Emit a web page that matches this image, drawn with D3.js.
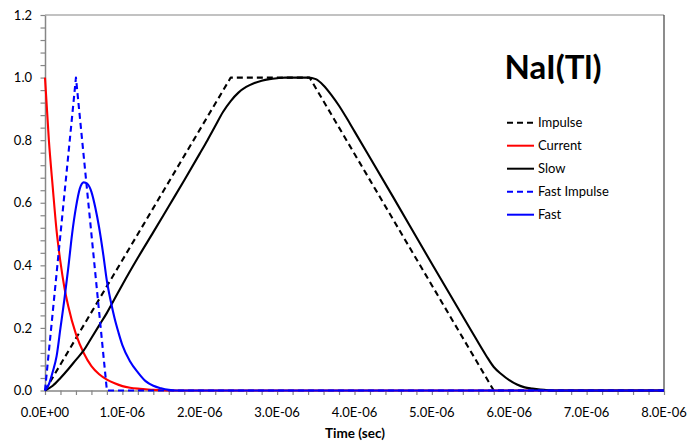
<!DOCTYPE html>
<html>
<head>
<meta charset="utf-8">
<script src="https://cdn.jsdelivr.net/npm/d3@7"></script>
<style>
  body { margin: 0; background: #fff; }
  text { font-family: Lato, "Open Sans", sans-serif; fill: #000; }
</style>
</head>
<body>
<svg width="688" height="442"></svg>
<script>
// times are in microseconds, values are normalised amplitude
var impulseTime = [0, 2.4, 3.42, 5.8, 8];
var impulseValue = [0, 1, 1, 0, 0];

var currentTime = [0, 0.05, 0.1, 0.15, 0.2, 0.25, 0.3, 0.4, 0.5, 0.6, 0.7, 0.8, 0.9, 1.0, 1.1, 1.2, 1.3, 1.4, 1.5, 1.6, 8];
var currentValue = [1.0, 0.8, 0.65, 0.51, 0.41, 0.33, 0.27, 0.18, 0.12, 0.078, 0.052, 0.035, 0.023, 0.014, 0.009, 0.006, 0.004, 0.002, 0.001, 0, 0];

var slowTime = [0, 0.1, 0.2, 0.3, 0.4, 0.5, 0.6, 0.7, 0.8, 0.9, 1.0, 1.2, 1.4, 1.6, 1.8, 2.0, 2.1, 2.2, 2.3, 2.4, 2.5, 2.6, 2.7, 2.8, 2.9, 3.0, 3.1, 3.4,
                3.5, 3.6, 3.7, 3.8, 3.9, 4.0, 4.5, 5.0, 5.5, 5.7, 5.8, 5.9, 6.0, 6.1, 6.2, 6.3, 6.4, 6.5, 6.6, 8];
var slowValue = [0, 0.015, 0.04, 0.068, 0.098, 0.128, 0.168, 0.208, 0.248, 0.293, 0.338, 0.424, 0.506, 0.589, 0.672, 0.757, 0.8, 0.845, 0.89, 0.925, 0.952, 0.97, 0.982, 0.99, 0.995, 0.998, 1.0, 1.0,
                 0.995, 0.975, 0.945, 0.91, 0.87, 0.828, 0.618, 0.405, 0.195, 0.112, 0.075, 0.052, 0.033, 0.019, 0.01, 0.006, 0.003, 0.001, 0, 0];

var fastImpulseTime = [0, 0.4, 0.8, 8];
var fastImpulseValue = [0, 1, 0, 0];

var fastTime = [0, 0.05, 0.1, 0.15, 0.2, 0.25, 0.3, 0.35, 0.4, 0.45, 0.5, 0.55, 0.6, 0.65, 0.7, 0.75, 0.8, 0.85, 0.9, 0.95, 1.0, 1.1, 1.2, 1.3, 1.4, 1.5, 1.6, 1.7, 8];
var fastValue = [0, 0.02, 0.06, 0.11, 0.2, 0.29, 0.39, 0.5, 0.585, 0.645, 0.665, 0.66, 0.635, 0.585, 0.52, 0.44, 0.35, 0.285, 0.23, 0.185, 0.145, 0.093, 0.058, 0.03, 0.015, 0.007, 0.002, 0, 0];

var seriesNames = ["Impulse", "Current", "Slow", "Fast Impulse", "Fast"];
var seriesColors = ["#000000", "#ff0000", "#000000", "#0000ff", "#0000ff"];
var seriesDashed = [true, false, false, true, false];
var seriesSmooth = [false, true, true, false, true];

var xTickValues = [0, 1, 2, 3, 4, 5, 6, 7, 8];
var xTickLabels = ["0.0E+00", "1.0E-06", "2.0E-06", "3.0E-06", "4.0E-06", "5.0E-06", "6.0E-06", "7.0E-06", "8.0E-06"];
var yTickValues = [0, 0.2, 0.4, 0.6, 0.8, 1.0, 1.2];
var yTickLabels = ["0.0", "0.2", "0.4", "0.6", "0.8", "1.0", "1.2"];

var times = [impulseTime, currentTime, slowTime, fastImpulseTime, fastTime];
var values = [impulseValue, currentValue, slowValue, fastImpulseValue, fastValue];

var svg = d3.select("svg");
var axisColor = "#868686";

// scales (x domain in seconds)
var x = d3.scaleLinear().domain([0, 8e-6]).range([45, 664]);
var y = d3.scaleLinear().domain([0, 1.2]).range([390.5, 15]);

// plot area border (top + right)
svg.append("line")
  .attr("x1", 45).attr("x2", 664).attr("y1", 15).attr("y2", 15)
  .attr("stroke", axisColor).attr("stroke-width", 1.2);
svg.append("line")
  .attr("x1", 664).attr("x2", 664).attr("y1", 15).attr("y2", 390.5)
  .attr("stroke", "#404040").attr("stroke-width", 1.2);

// minor ticks
var xMinor = d3.range(0, 8.01, 0.2).map(function(d) { return d * 1e-6; });
var yMinor = d3.range(0, 1.201, 0.04);

var gx = svg.append("g").attr("transform", "translate(0," + y(0) + ")");
gx.call(d3.axisBottom(x).tickValues(xMinor).tickSize(4.5).tickFormat("").tickSizeOuter(0));
gx.call(function(g) {
  g.select(".domain").attr("stroke", axisColor).attr("stroke-width", 1.5);
  g.selectAll(".tick line").attr("stroke", axisColor).attr("stroke-width", 1.2);
});
svg.append("g")
  .selectAll("text")
  .data(xTickValues)
  .enter().append("text")
    .attr("x", function(d) { return x(d * 1e-6); })
    .attr("y", 417)
    .attr("text-anchor", "middle")
    .style("font-size", "13px")
    .text(function(d, i) { return xTickLabels[i]; });

var gy = svg.append("g").attr("transform", "translate(" + x(0) + ",0)");
gy.call(d3.axisLeft(y).tickValues(yMinor).tickSize(4.5).tickFormat("").tickSizeOuter(0));
gy.call(function(g) {
  g.select(".domain").attr("stroke", axisColor).attr("stroke-width", 1.5);
  g.selectAll(".tick line").attr("stroke", axisColor).attr("stroke-width", 1.2);
});
svg.append("g")
  .selectAll("text")
  .data(yTickValues)
  .enter().append("text")
    .attr("x", 32)
    .attr("y", function(d) { return y(d) + 4.7; })
    .attr("text-anchor", "end")
    .style("font-size", "13px")
    .text(function(d, i) { return yTickLabels[i]; });

// axis title
svg.append("text")
  .attr("x", 355).attr("y", 438)
  .attr("text-anchor", "middle")
  .style("font-size", "13.5px").style("font-weight", "bold")
  .text("Time (sec)");

// series lines
var plot = svg.append("g");
seriesNames.forEach(function(name, i) {
  var pts = times[i].map(function(t, j) { return [t * 1e-6, values[i][j]]; });
  var line = d3.line()
    .x(function(d) { return x(d[0]); })
    .y(function(d) { return y(d[1]); })
    .curve(seriesSmooth[i] ? d3.curveMonotoneX : d3.curveLinear);
  plot.append("path")
    .datum(pts)
    .attr("d", line)
    .attr("fill", "none")
    .attr("stroke", seriesColors[i])
    .attr("stroke-width", 2.1)
    .attr("stroke-linejoin", "round")
    .attr("stroke-dasharray", seriesDashed[i] ? "6,4" : null);
});

// title
svg.append("text")
  .attr("x", 553).attr("y", 79)
  .attr("text-anchor", "middle")
  .style("font-size", "33px").style("font-weight", "bold")
  .text("NaI(Tl)");

// legend
var legend = svg.append("g").attr("class", "legend");
seriesNames.forEach(function(name, i) {
  var ly = 122.7 + i * 23;
  legend.append("line")
    .attr("x1", 507).attr("x2", 534).attr("y1", ly).attr("y2", ly)
    .attr("stroke", seriesColors[i])
    .attr("stroke-width", 2)
    .attr("stroke-dasharray", seriesDashed[i] ? "6,4" : null);
  legend.append("text")
    .attr("x", 538).attr("y", ly + 4.5)
    .style("font-size", "13px")
    .text(name);
});
</script>
</body>
</html>
